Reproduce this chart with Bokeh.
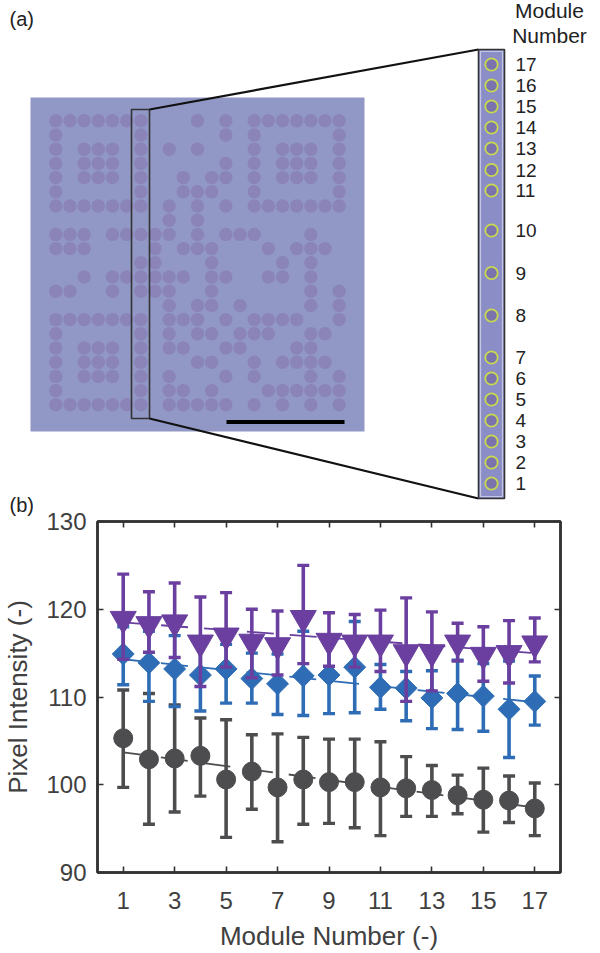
from bokeh.plotting import figure
from bokeh.models import Range1d, LinearAxis, FixedTicker
from bokeh.core.properties import value
from bokeh.embed import file_html
from bokeh.resources import INLINE

modules = list(range(1, 18))
purple = [118.9,118.3,118.5,116.2,117.0,116.3,115.9,119.0,116.4,116.2,116.2,115.1,115.1,116.2,114.8,115.0,116.1]
purple_hi = [124.0,122.0,123.0,121.4,121.9,120.0,119.8,125.0,119.6,119.4,119.9,121.3,119.7,118.4,118.0,118.7,119.0]
purple_lo = [114.3,115.1,114.5,111.2,113.4,112.2,112.5,113.8,113.5,113.4,112.9,109.5,110.7,114.1,111.8,111.6,114.0]
blue = [114.9,113.9,113.2,112.5,113.2,112.1,111.5,112.4,112.5,113.4,111.1,111.0,109.9,110.4,110.1,108.6,109.5]
blue_hi = [118.0,117.5,117.0,116.0,116.0,115.0,114.9,117.5,116.9,118.6,113.7,112.9,113.0,114.2,113.8,114.1,112.4]
blue_lo = [111.4,109.5,108.9,108.4,109.3,109.3,108.0,107.9,108.1,108.2,108.6,107.3,106.4,106.3,106.1,103.1,106.8]
grey = [105.3,102.9,103.0,103.3,100.6,101.5,99.7,100.6,100.3,100.3,99.7,99.6,99.4,98.8,98.3,98.2,97.3]
grey_hi = [110.8,110.4,109.1,107.6,107.4,105.7,105.8,105.4,105.2,105.2,104.9,103.2,102.2,101.1,101.9,101.0,100.2]
grey_lo = [99.7,95.5,96.9,98.7,94.0,97.2,93.5,95.5,95.6,95.1,94.2,96.4,96.4,96.7,94.6,95.7,94.2]
fit_x = [1, 17]
fit_purple = [118.5, 115.0]
fit_blue = [114.3, 109.4]
fit_grey = [103.7, 97.4]
x_ticks = [1,3,5,7,9,11,13,15,17]
y_ticks = [90,100,110,120,130]

qr_cols = [
 [0,1,2,3,4,5,6,10,12,14,15,16,17,18,19,20],
 [0,6,12,14,20],
 [0,2,3,4,6,8,10,14,16,17,18,20],
 [0,2,3,4,6,12,14,16,17,18,20],
 [0,2,3,4,6,9,11,12,14,16,17,18,20],
 [0,6,9,10,11,14,20],
 [0,1,2,3,4,5,6,8,10,12,14,15,16,17,18,19,20],
 [8,10],
 [0,1,2,4,5,6,7,8,10,12,13,14,18],
 [0,1,2,7,9,10,11,15,17,18,19],
 [6,7,11,16,18],
 [2,4,5,6,7,8,9,11,12,15,16,18],
 [0,1,4,6,7,8,11,18,20],
 [8,10,11,13,18,20],
 [0,1,2,3,4,5,6,8,9,10,12,14,15,16,17,20],
 [0,6,8,10,11,13,14,15,18,19],
 [0,2,3,4,6,8,9,12,13,17,18],
 [0,2,3,4,6,10,11,14,16,17,18,19],
 [0,2,3,4,6,8,12,14,18,20],
 [0,6,8,9,11,15,16,17,18,19,20],
 [0,1,2,3,4,5,6,8,9,10,11,12,14,16,18,20],
]
strip_labels = ["17","16","15","14","13","12","11","10","9","8","7","6","5","4","3","2","1"]
strip_y = [64,85,106,127,148,169.5,190,230,272.5,315,357,378,399,420,441,462,483]

FONT = value("Liberation Sans")
TXT = "#222222"

# ---------- panel (a)
a = figure(width=592, height=518, x_range=Range1d(0, 592), y_range=Range1d(518, 0),
           output_backend="svg", toolbar_location=None, min_border=0,
           x_axis_type=None, y_axis_type=None, outline_line_color=None)
a.grid.visible = False
a.quad(left=[30], right=[364], top=[97], bottom=[431], fill_color="#9298c6", line_color=None)
qx, qy = [], []
for r, cols in enumerate(qr_cols):
    for c in cols:
        qx.append(55.3 + 14.17 * c)
        qy.append(120.3 + 14.2 * r)
a.circle(qx, qy, radius=6.7, fill_color="#8a84b9", line_color=None)
a.quad(left=[131], right=[149], top=[109], bottom=[418], fill_color=None, line_color="#333333", line_width=1.6)
a.line([149, 478], [109, 49], line_color="#111111", line_width=2.2)
a.line([149, 478], [418, 498], line_color="#111111", line_width=2.2)
a.line([226, 344], [421.5, 421.5], line_color="#000000", line_width=4)
a.quad(left=[478], right=[504], top=[49], bottom=[498], fill_color="#8b8dc6", line_color="#333333", line_width=1.6)
a.quad(left=[480], right=[502], top=[51], bottom=[496], fill_color=None, line_color="#c4c6e2", line_width=1.2)
a.circle([491] * len(strip_y), strip_y, radius=6.2, fill_color="#7a73ad", line_color="#c9d94e", line_width=1.8)
a.text([515] * len(strip_y), strip_y, text=strip_labels, text_font=FONT, text_font_size="19px",
       text_color=TXT, text_align="left", text_baseline="middle")
a.text([549, 549], [10, 35], text=["Module", "Number"], text_font=FONT, text_font_size="21px",
       text_color=TXT, text_align="center", text_baseline="middle")
a.text([9, 9], [18, 504], text=["(a)", "(b)"], text_font=FONT, text_font_size="20px", text_color=TXT,
       text_align="left", text_baseline="middle")

# ---------- panel (b)
b = figure(width=592, height=453, x_range=Range1d(0, 18), y_range=Range1d(90, 130),
           output_backend="svg", toolbar_location=None,
           min_border_left=96, min_border_right=32, min_border_top=21, min_border_bottom=81,
           outline_line_color="#333333", outline_line_width=2.5,
           border_fill_color=None, background_fill_color=None, margin=(-18, 0, 0, 0))
b.grid.visible = False

def style(ax):
    ax.major_tick_in = 6
    ax.major_tick_out = 0
    ax.minor_tick_line_color = None
    ax.major_tick_line_color = "#333333"
    ax.major_tick_line_width = 1.6
    ax.axis_line_color = "#333333"
    ax.axis_line_width = 2.5
    ax.major_label_text_font = "Liberation Sans"
    ax.major_label_text_font_size = "24px"
    ax.major_label_text_color = "#404040"
    ax.axis_label_text_font = "Liberation Sans"
    ax.axis_label_text_font_size = "26px"
    ax.axis_label_text_font_style = "normal"
    ax.axis_label_text_color = "#404040"

for ax in b.xaxis:
    ax.ticker = FixedTicker(ticks=x_ticks)
    ax.axis_label = "Module Number (-)"
    style(ax)
    ax.major_label_standoff = 19
    ax.axis_label_standoff = 9
for ax in b.yaxis:
    ax.ticker = FixedTicker(ticks=y_ticks)
    ax.axis_label = "Pixel Intensity (-)"
    style(ax)
    ax.major_label_standoff = 11
    ax.axis_label_standoff = 10
top = LinearAxis(ticker=FixedTicker(ticks=x_ticks))
style(top)
top.major_label_overrides = {t: "" for t in x_ticks}
top.major_label_standoff = 0
b.add_layout(top, "above")
right = LinearAxis(ticker=FixedTicker(ticks=y_ticks))
style(right)
right.major_label_overrides = {t: "" for t in y_ticks}
right.major_label_standoff = 0
b.add_layout(right, "right")

GREY, BLUE, PURPLE = "#4d4d4f", "#2e6db5", "#6a3f9f"
series = [
    (grey, grey_hi, grey_lo, fit_grey, GREY, "circle", 19, 0),
    (blue, blue_hi, blue_lo, fit_blue, BLUE, "square", 15.5, 0.7854),
    (purple, purple_hi, purple_lo, fit_purple, PURPLE, "inverted_triangle", 26, 0),
]
for vals, hi, lo, fit, col, marker, size, ang in series:
    b.line(fit_x, fit, line_color=col, line_width=1.8, line_dash="27 16", line_dash_offset=5)
    b.segment(modules, lo, modules, hi, line_color=col, line_width=3.6)
    b.scatter(modules, hi, marker="dash", size=12, line_color=col, line_width=3.4)
    b.scatter(modules, lo, marker="dash", size=12, line_color=col, line_width=3.4)
    b.scatter(modules, vals, marker=marker, size=size, angle=ang, fill_color=col, line_color=col)

open("out.html", "w").write(file_html((a, b), INLINE))
